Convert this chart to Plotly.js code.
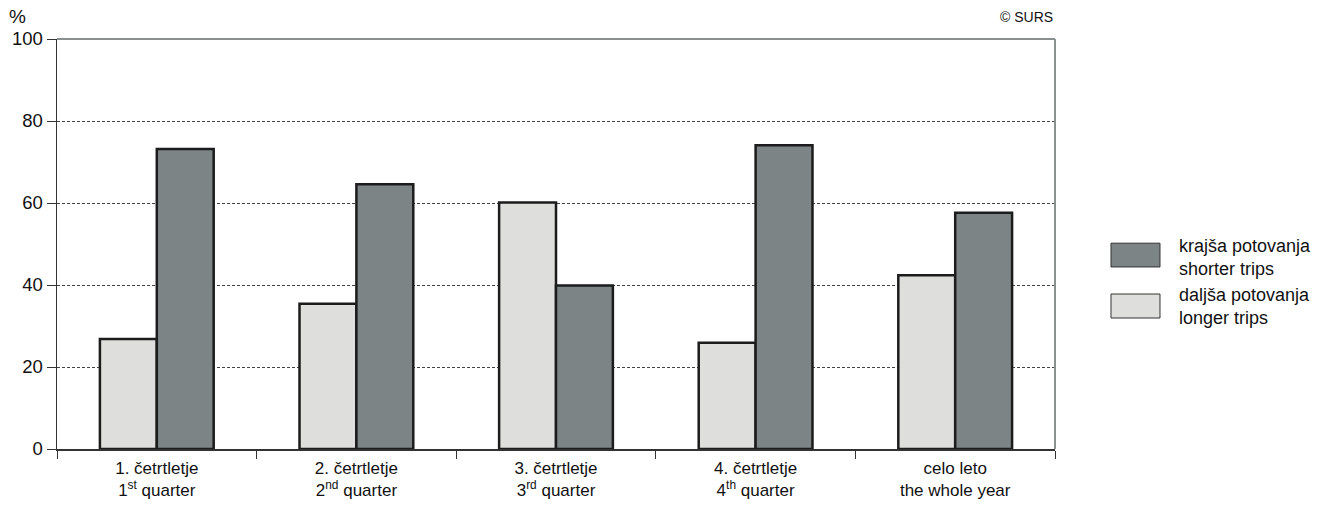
<!DOCTYPE html>
<html>
<head>
<meta charset="utf-8">
<script src="https://cdn.plot.ly/plotly-3.0.1.min.js"></script>
<style>html,body{margin:0;padding:0;background:#fff;}#chart{width:1338px;height:508px;}</style>
</head>
<body>
<div id="chart"></div>
<script>
var categories = [
  "1. četrtletje<br>1<sup>st</sup> quarter",
  "2. četrtletje<br>2<sup>nd</sup> quarter",
  "3. četrtletje<br>3<sup>rd</sup> quarter",
  "4. četrtletje<br>4<sup>th</sup> quarter",
  "celo leto<br>the whole year"
];
var longerTrips = [26.8, 35.4, 60.1, 25.9, 42.4];
var shorterTrips = [73.2, 64.6, 39.9, 74.1, 57.6];
var seriesNames = ["daljša potovanja<br>longer trips", "krajša potovanja<br>shorter trips"];
var yTicks = [0, 20, 40, 60, 80, 100];

var lightColor = "#dededc";
var darkColor = "#7c8486";
var edge = "#1c1c1c";
var font = "Liberation Sans, Arial, sans-serif";

var traces = [
  {type: "bar", x: categories, y: longerTrips, name: seriesNames[0],
   marker: {color: lightColor, line: {color: edge, width: 2.5}}, hoverinfo: "y"},
  {type: "bar", x: categories, y: shorterTrips, name: seriesNames[1],
   marker: {color: darkColor, line: {color: edge, width: 2.5}}, hoverinfo: "y"}
];

var layout = {
  width: 1338, height: 508,
  margin: {l: 57, r: 283, t: 39, b: 59},
  paper_bgcolor: "#fff", plot_bgcolor: "#fff",
  font: {family: font, color: "#111"},
  barmode: "group", bargap: 0.43, bargroupgap: 0,
  showlegend: false,
  xaxis: {
    type: "category", tickson: "boundaries", ticks: "outside", ticklen: 8,
    tickcolor: "#333", tickwidth: 1, showline: true, linecolor: "#333", linewidth: 1.5,
    showgrid: false, ticklabelstandoff: 3,
    tickfont: {size: 17, family: font, color: "#111"}, fixedrange: true
  },
  yaxis: {
    range: [0, 100], tickvals: yTicks, ticks: "outside", ticklen: 9, tickcolor: "#333",
    showline: true, linecolor: "#333", linewidth: 1.5, zeroline: false,
    showgrid: true, gridcolor: "#444", gridwidth: 1, griddash: "3px,2px",
    tickfont: {size: 18.5, family: font, color: "#111"}, fixedrange: true
  },
  shapes: [
    {type: "line", xref: "paper", yref: "paper", x0: 0, x1: 1, y0: 1, y1: 1, line: {color: "#8a8f90", width: 2}},
    {type: "line", xref: "paper", yref: "paper", x0: 1, x1: 1, y0: 0, y1: 1, line: {color: "#8a8f90", width: 2}},
    {type: "rect", xref: "paper", yref: "paper", x0: 1.0561, x1: 1.1052, y0: 0.444, y1: 0.502,
     fillcolor: darkColor, line: {color: "#333", width: 1}},
    {type: "rect", xref: "paper", yref: "paper", x0: 1.0561, x1: 1.1052, y0: 0.3195, y1: 0.378,
     fillcolor: lightColor, line: {color: "#333", width: 1}}
  ],
  annotations: [
    {xref: "paper", yref: "paper", x: -0.05, y: 1.024, xanchor: "left", yanchor: "bottom",
     text: "%", showarrow: false, font: {size: 19, family: font, color: "#111"}},
    {xref: "paper", yref: "paper", x: 1.0, y: 1.03, xanchor: "right", yanchor: "bottom",
     text: "© SURS", showarrow: false, font: {size: 14, family: font, color: "#111"}},
    {xref: "paper", yref: "paper", x: 1.1222, y: 0.467, xanchor: "left", yanchor: "middle", align: "left",
     text: "krajša potovanja<br>shorter trips", showarrow: false, font: {size: 18, family: font, color: "#111"}},
    {xref: "paper", yref: "paper", x: 1.1222, y: 0.347, xanchor: "left", yanchor: "middle", align: "left",
     text: "daljša potovanja<br>longer trips", showarrow: false, font: {size: 18, family: font, color: "#111"}}
  ]
};

Plotly.newPlot("chart", traces, layout, {displayModeBar: false, staticPlot: true});
</script>
</body>
</html>
